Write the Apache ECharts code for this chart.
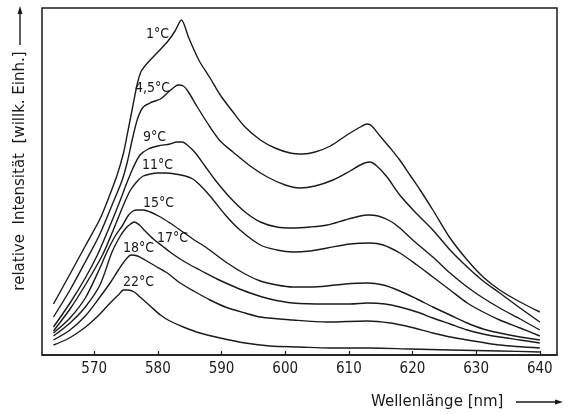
<!DOCTYPE html>
<html>
<head>
<meta charset="utf-8">
<script src="https://cdn.jsdelivr.net/npm/echarts@6/dist/echarts.min.js"></script>
<style>
html,body{margin:0;padding:0;background:#fff;}
#c{width:568px;height:414px;}
</style>
</head>
<body>
<div id="c"></div>
<script>
// Temperatures (curve labels)
const temps = ['1°C', '4,5°C', '9°C', '11°C', '15°C', '17°C', '18°C', '22°C'];
// x tick labels (nm)
const xTicks = [570, 580, 590, 600, 610, 620, 630, 640];

// [wavelength nm, relative intensity (arb. units)]
const c1 = [[563.6,51],[566.2,81],[568.6,109],[570.9,136],[572.2,156],[573.6,180],[574.6,202],[575.3,224],[576.1,250],[576.8,272],[577.4,284],[578.5,293],[580.0,303],[581.6,314],[582.7,324],[583.7,335],[584.8,318],[585.9,302],[586.6,293],[588.2,277],[589.8,260],[591.8,243],[593.7,228],[596.1,215],[598.4,207],[600.8,202],[602.8,201],[604.7,203],[607.1,209],[609.7,220],[611.8,228],[612.9,231],[613.6,229],[614.9,219],[616.5,207],[618.0,195],[619.6,180],[621.2,165],[623.2,145],[625.9,117],[628.6,95],[631.1,78],[633.7,65],[636.9,53],[640.0,43]];
const c45 = [[563.6,38],[566.2,65],[568.6,93],[570.9,121],[573.0,153],[574.4,175],[575.2,193],[576.0,216],[576.8,236],[577.7,248],[579.1,253],[580.4,256],[581.5,262],[582.4,267],[583.2,270],[584.0,269],[584.8,263],[586.2,248],[588.2,228],[589.8,214],[591.8,203],[594.5,189],[597.2,178],[600.0,170],[602.3,167],[604.7,169],[607.5,175],[610.2,184],[612.1,191],[613.3,193],[614.4,189],[616.0,178],[618.0,160],[620.4,143],[623.2,125],[625.9,105],[628.6,88],[631.1,74],[633.7,62],[636.9,47],[640.0,33]];
const c9 = [[563.6,28],[566.2,52],[568.6,77],[570.5,100],[572.2,125],[573.8,150],[575.0,170],[576.1,187],[577.2,200],[578.5,206],[580.0,209],[581.9,211],[583.0,213],[583.8,213],[584.8,209],[585.9,202],[587.4,189],[589.0,175],[591.4,157],[593.7,143],[596.1,133],[598.7,128],[601.2,127],[603.9,128],[606.6,130],[609.4,135],[611.8,139],[613.0,140],[614.6,139],[616.5,134],[618.0,127],[620.4,113],[623.2,98],[625.9,82],[628.6,68],[631.1,57],[633.7,47],[636.9,36],[640.0,25]];
const c11 = [[563.6,24],[566.2,46],[568.6,70],[571.3,100],[573.0,125],[574.6,150],[575.7,165],[576.8,174],[577.7,179],[578.8,181],[579.9,182],[581.2,182],[582.7,181],[584.3,179],[585.5,176],[586.6,170],[588.2,159],[590.6,140],[592.9,125],[596.1,110],[598.7,105],[601.2,103],[603.9,104],[606.6,107],[610.2,111],[613.3,112],[615.4,110],[618.0,102],[620.7,90],[623.2,78],[625.9,65],[628.6,52],[631.1,43],[633.7,35],[636.9,27],[640.0,19]];
const c15 = [[563.6,22],[566.2,37],[568.6,57],[570.9,87],[572.0,103],[573.3,119],[574.4,129],[575.3,139],[576.1,144],[576.8,145],[577.7,145],[578.8,143],[580.4,138],[581.9,132],[583.5,125],[585.5,116],[587.7,107],[590.9,92],[593.7,81],[596.1,74],[598.7,70],[601.2,68],[603.9,68],[606.6,69],[609.4,71],[612.9,72],[615.4,70],[618.0,64],[620.7,56],[623.2,48],[625.9,40],[628.6,32],[631.1,26],[633.7,22],[636.9,18],[640.0,15]];
const c17 = [[563.6,19],[566.2,32],[568.6,48],[570.9,70],[572.8,103],[574.1,119],[575.0,127],[575.7,131],[576.3,133],[577.1,130],[578.0,124],[579.3,116],[580.7,109],[581.9,103],[583.5,96],[585.1,90],[586.6,85],[589.3,76],[592.1,68],[594.5,62],[597.6,56],[601.2,52],[606.6,51],[610.2,51],[612.9,52],[615.7,51],[618.0,48],[620.7,43],[623.2,37],[625.9,31],[628.6,25],[631.1,21],[633.7,18],[636.9,15],[640.0,12]];
const c18 = [[563.6,15],[566.2,25],[568.6,39],[570.9,58],[572.5,72],[573.8,85],[574.9,95],[575.8,100],[576.8,99],[578.0,95],[579.6,89],[581.5,82],[583.5,72],[585.9,63],[588.2,55],[590.6,48],[593.7,42],[596.1,38],[601.2,35],[606.6,33],[612.9,34],[616.5,32],[619.6,28],[623.2,22],[625.9,18],[628.6,15],[633.7,10],[640.0,7]];
const c22 = [[563.6,10],[565.8,16],[567.8,24],[569.4,32],[570.9,41],[572.5,52],[573.8,60],[574.6,65],[575.3,65],[576.3,63],[577.2,58],[578.8,49],[580.4,40],[581.9,34],[584.0,28],[586.6,22],[589.8,17],[593.7,12],[597.6,9],[602.3,8],[607.1,7],[613.3,7],[619.6,6],[625.9,5],[633.7,4],[640.0,3]];

const curves = [c1, c45, c9, c11, c15, c17, c18, c22];

const FONT_N = '"DejaVu Sans Condensed", "Liberation Sans Narrow", "DejaVu Sans", sans-serif';
const FONT_W = '"DejaVu Sans", sans-serif';
const INK = '#1a1a1a';

const chart = echarts.init(document.getElementById('c'), null, {renderer: 'canvas'});

const series = curves.map((d, i) => ({
  name: temps[i],
  type: 'line',
  data: d,
  showSymbol: false,
  smooth: 0.3,
  lineStyle: {color: INK, width: 1.4},
  z: 3
}));

// label anchor positions in pixels
const labelPos = [[146,34],[135,88],[143,137],[142,165],[143,203],[157,238],[123,248],[123,282]];

const graphics = temps.map((t, i) => ({
  type: 'text',
  x: labelPos[i][0], y: labelPos[i][1],
  style: {text: t, fill: INK, font: '14px ' + FONT_N, textVerticalAlign: 'middle'},
  z: 10
}));

graphics.push(
  {type: 'text', x: 20, y: 171, rotation: Math.PI/2,
   style: {text: 'relative  Intensität  [willk. Einh.]', fill: INK, font: '15px ' + FONT_W, textAlign: 'center', textVerticalAlign: 'middle'}},
  {type: 'line', shape: {x1: 20, y1: 45, x2: 20, y2: 12}, style: {stroke: INK, lineWidth: 1.4}},
  {type: 'polygon', shape: {points: [[20,6],[17.5,14],[22.5,14]]}, style: {fill: INK}},
  {type: 'text', x: 371, y: 402,
   style: {text: 'Wellenlänge [nm]', fill: INK, font: '15px ' + FONT_W, textVerticalAlign: 'middle'}},
  {type: 'line', shape: {x1: 516, y1: 402, x2: 556, y2: 402}, style: {stroke: INK, lineWidth: 1.4}},
  {type: 'polygon', shape: {points: [[563,402],[555,399.5],[555,404.5]]}, style: {fill: INK}}
);

chart.setOption({
  animation: false,
  backgroundColor: '#fff',
  grid: {left: 42, top: 8, width: 515, height: 347, show: true, borderColor: INK, borderWidth: 1.5, backgroundColor: 'transparent'},
  xAxis: {
    type: 'value', min: 561.8, max: 642.7,
    axisLine: {show: true, lineStyle: {color: INK, width: 1.5}},
    axisTick: {show: true, inside: true, length: 4, customValues: xTicks, lineStyle: {color: INK, width: 1.2}},
    axisLabel: {show: true, customValues: xTicks, margin: 7, color: INK, fontSize: 15, fontFamily: FONT_N},
    splitLine: {show: false}
  },
  yAxis: {
    type: 'value', min: 0, max: 347,
    show: false, splitLine: {show: false}
  },
  series: series,
  graphic: graphics
});
</script>
</body>
</html>
